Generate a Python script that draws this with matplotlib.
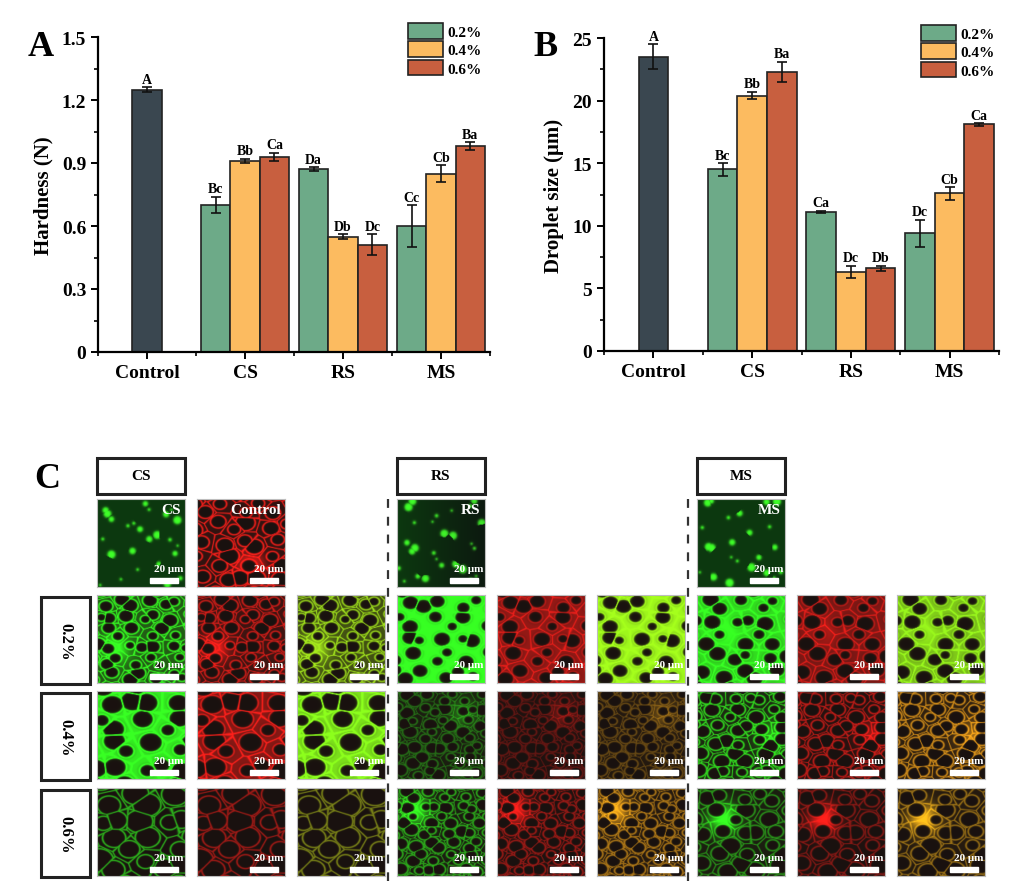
import matplotlib
matplotlib.use('Agg')
import matplotlib.pyplot as plt
import numpy as np
from matplotlib.patches import Rectangle
from matplotlib.lines import Line2D
from matplotlib.ticker import MultipleLocator

plt.rcParams['font.family'] = ['Liberation Serif', 'DejaVu Serif']
plt.rcParams['font.weight'] = 'bold'
plt.rcParams['axes.labelweight'] = 'bold'

# --- データ ---
groups = ['Control', 'CS', 'RS', 'MS']
conc = ['0.2%', '0.4%', '0.6%']

hard_ctrl, hard_ctrl_err = 1.25, 0.01
hard_02 = [0.70, 0.87, 0.60]
hard_04 = [0.91, 0.55, 0.85]
hard_06 = [0.93, 0.51, 0.98]
hard_02_err = [0.04, 0.01, 0.10]
hard_04_err = [0.01, 0.01, 0.04]
hard_06_err = [0.02, 0.05, 0.02]
hard_02_let = ['Bc', 'Da', 'Cc']
hard_04_let = ['Bb', 'Db', 'Cb']
hard_06_let = ['Ca', 'Dc', 'Ba']

size_ctrl, size_ctrl_err = 23.5, 1.0
size_02 = [14.5, 11.1, 9.4]
size_04 = [20.4, 6.3, 12.6]
size_06 = [22.3, 6.6, 18.1]
size_02_err = [0.5, 0.1, 1.1]
size_04_err = [0.3, 0.5, 0.5]
size_06_err = [0.8, 0.2, 0.1]
size_02_let = ['Bc', 'Ca', 'Dc']
size_04_let = ['Bb', 'Dc', 'Cb']
size_06_let = ['Ba', 'Db', 'Ca']

c_ctrl = '#3a4750'
c_conc = ['#6daa88', '#fcbb60', '#c85f3f']

W, H = 1024, 895
fig = plt.figure(figsize=(W / 100, H / 100), dpi=100)


def rect(x0, y0, x1, y1):
    # ピクセル座標 -> figure 座標
    return [x0 / W, 1 - y1 / H, (x1 - x0) / W, (y1 - y0) / H]


def bar_panel(ax, ctrl, ctrl_err, vals, errs, lets, ymax, ystep, ylabel, leg_xy):
    bw = 0.3
    x = np.arange(1, 4)
    ekw = dict(ecolor='#111111', elinewidth=1.2, capsize=3.5, capthick=1.2)
    ax.bar(0, ctrl, bw, yerr=ctrl_err, color=c_ctrl, edgecolor='#222222',
           linewidth=1.2, error_kw=ekw, zorder=2)
    ax.annotate('A', (0, ctrl + ctrl_err), xytext=(0, 1), textcoords='offset points',
                ha='center', va='bottom', fontsize=10, fontweight='bold')
    for i in range(3):
        xs = x + (i - 1) * bw
        ax.bar(xs, vals[i], bw, yerr=errs[i], color=c_conc[i], edgecolor='#222222',
               linewidth=1.2, error_kw=ekw, label=conc[i], zorder=2)
        for xx, v, e, t in zip(xs, vals[i], errs[i], lets[i]):
            ax.annotate(t, (xx, v + e), xytext=(0, 1), textcoords='offset points',
                        ha='center', va='bottom', fontsize=10, fontweight='bold')
    ax.set_xlim(-0.5, 3.5)
    ax.set_ylim(0, ymax)
    ax.set_xticks(range(4))
    ax.set_xticklabels(groups, fontweight='bold')
    ax.xaxis.set_minor_locator(MultipleLocator(0.5))
    ax.yaxis.set_major_locator(MultipleLocator(ystep))
    ax.yaxis.set_minor_locator(MultipleLocator(ystep / 2))
    ax.tick_params(axis='both', which='major', labelsize=14, width=1.4, length=5, direction='out')
    ax.tick_params(axis='both', which='minor', width=1.2, length=3, direction='out')
    for s in ['top', 'right']:
        ax.spines[s].set_visible(False)
    for s in ['left', 'bottom']:
        ax.spines[s].set_linewidth(1.6)
    ax.set_ylabel(ylabel, fontsize=15, labelpad=6, fontweight='bold')
    ax.legend(loc='upper left', bbox_to_anchor=leg_xy, bbox_transform=fig.transFigure,
              frameon=False, prop=dict(size=11, weight='bold'), handlelength=2.3,
              handleheight=1.2, handletextpad=0.3, labelspacing=0.15, borderpad=0,
              borderaxespad=0)


axA = fig.add_axes(rect(98, 38, 490, 353))
bar_panel(axA, hard_ctrl, hard_ctrl_err,
          [hard_02, hard_04, hard_06], [hard_02_err, hard_04_err, hard_06_err],
          [hard_02_let, hard_04_let, hard_06_let],
          1.5, 0.3, 'Hardness (N)', (408 / W, 1 - 24 / H))
axA.yaxis.set_major_formatter(plt.FuncFormatter(lambda v, p: '0' if v == 0 else f'{v:.1f}'))

axB = fig.add_axes(rect(604, 39, 999, 352))
bar_panel(axB, size_ctrl, size_ctrl_err,
          [size_02, size_04, size_06], [size_02_err, size_04_err, size_06_err],
          [size_02_let, size_04_let, size_06_let],
          25, 5, 'Droplet size (μm)', (921 / W, 1 - 26 / H))
for ax in (axA, axB):
    for lab in ax.get_yticklabels():
        lab.set_fontweight('bold')

fig.text(28 / W, 1 - 56 / H, 'A', fontsize=26, fontweight='bold', ha='left', va='baseline')
fig.text(533 / W, 1 - 56 / H, 'B', fontsize=26, fontweight='bold', ha='left', va='baseline')
fig.text(34 / W, 1 - 488 / H, 'C', fontsize=26, fontweight='bold', ha='left', va='baseline')


# --- パネル C: 顕微鏡画像の模式表現 ---
def foam(cells, phase, rad, fill, ring, patch=None, n=110):
    yy, xx = np.mgrid[0:n, 0:n] / n
    k = np.arange(-1, cells + 1)
    gx, gy = [a.ravel().astype(float) for a in np.meshgrid(k, k)]
    px = (gx + 0.5 + 0.5 * (gy % 2) + 0.28 * np.sin(2.1 * gx + 3.7 * gy + phase)) / cells
    py = (gy + 0.5 + 0.28 * np.cos(3.3 * gx - 1.9 * gy + 1.7 * phase)) / cells
    rr = rad * (0.8 + 0.2 * np.sin(1.3 * gx * gy + 0.7 * gx + phase)) / cells
    # やや楕円にする
    d = np.hypot((xx[..., None] - px) * 0.9, (yy[..., None] - py) * 1.1)
    i0 = d.argmin(-1)
    ds = np.sort(d, -1)
    s = ds[..., 0] - rr[i0]
    gap = (ds[..., 1] - ds[..., 0]) * cells
    edge = np.exp(-(gap / 0.06) ** 2)
    outside = np.maximum(1 / (1 + np.exp(-s * n / 1.0)), edge)
    mem = np.exp(-(s * n / 1.1) ** 2)
    f = np.full_like(xx, fill)
    if patch is not None:
        f = f + patch[2] * np.exp(-((xx - patch[0]) ** 2 + (yy - patch[1]) ** 2) / 0.025)
    return np.clip(f * outside + ring * np.maximum(mem, edge), 0, 1)


def dots(cells, phase, rad, n=110):
    yy, xx = np.mgrid[0:n, 0:n] / n
    k = np.arange(0, cells)
    gx, gy = [a.ravel().astype(float) for a in np.meshgrid(k, k)]
    px = (gx + 0.5 + 0.4 * np.sin(2.7 * gx + 1.9 * gy + phase)) / cells
    py = (gy + 0.5 + 0.4 * np.cos(1.3 * gx - 3.1 * gy + phase)) / cells
    keep = np.sin(5.1 * gx + 2.3 * gy + phase) > 0.0
    rr = rad * (0.6 + 0.4 * np.sin(0.9 * gx + 1.7 * gy + phase)) / cells
    d = np.hypot(xx[..., None] - px, yy[..., None] - py)
    i0 = d.argmin(-1)
    s = d.min(-1) - rr[i0]
    I = (1 / (1 + np.exp(s * n / 0.8))) * keep[i0]
    return I, xx


bg = np.array([0.10, 0.07, 0.06])
col_g = np.array([0.12, 1.0, 0.08])
col_r = np.array([1.0, 0.06, 0.05])


def to_rgb(I, col, base=bg):
    return np.clip(base + I[..., None] * col, 0, 1)


col_x = [97, 197, 297, 397, 497, 597, 697, 797, 897]
row_y = [500, 596, 692, 789]
tw = 88

# 各濃度・各澱粉の泡構造パラメータ (cells, phase, rad, fill, ring, patch)
foam_par = {
    (1, 0): (6, 0.3, 0.50, 0.30, 0.75, (0.2, 0.6, 0.7)),
    (1, 1): (5, 1.1, 0.45, 0.95, 0.45, None),
    (1, 2): (5, 2.0, 0.47, 0.80, 0.5, (0.3, 0.4, 0.2)),
    (2, 0): (4, 0.7, 0.50, 0.85, 0.65, None),
    (2, 1): (7, 1.5, 0.54, 0.05, 0.35, (0.75, 0.25, 0.35)),
    (2, 2): (6, 2.6, 0.54, 0.10, 0.75, (0.85, 0.5, 0.5)),
    (3, 0): (4, 0.1, 0.58, 0.0, 0.65, None),
    (3, 1): (7, 1.9, 0.54, 0.05, 0.6, (0.2, 0.25, 0.9)),
    (3, 2): (5, 2.9, 0.54, 0.05, 0.5, (0.3, 0.35, 1.0)),
}
merge_col = {
    (1, 0): [0.55, 0.85, 0.05], (1, 1): [0.55, 0.95, 0.05], (1, 2): [0.5, 0.9, 0.05],
    (2, 0): [0.45, 0.95, 0.05], (2, 1): [0.85, 0.6, 0.05], (2, 2): [0.9, 0.6, 0.05],
    (3, 0): [0.6, 0.7, 0.05], (3, 1): [0.95, 0.65, 0.05], (3, 2): [0.95, 0.7, 0.05],
}


def tile(x0, y0, img, label=None):
    ax = fig.add_axes(rect(x0, y0, x0 + tw, y0 + tw))
    ax.imshow(img, extent=(0, 1, 0, 1), aspect='auto', interpolation='bilinear')
    ax.set_xlim(0, 1)
    ax.set_ylim(0, 1)
    ax.set_xticks([])
    ax.set_yticks([])
    for s in ax.spines.values():
        s.set_color('#bdbdbd')
        s.set_linewidth(0.8)
    ax.text(0.98, 0.16, '20 μm', color='white', fontsize=8, fontweight='bold',
            ha='right', va='bottom', transform=ax.transAxes)
    ax.add_patch(Rectangle((0.6, 0.05), 0.32, 0.05, color='white', transform=ax.transAxes))
    if label:
        ax.text(0.95, 0.96, label, color='white', fontsize=11, fontweight='bold',
                ha='right', va='top', transform=ax.transAxes)


# 1 行目 (単独)
starch = ['CS', 'RS', 'MS']
for j, (c, ph) in enumerate(zip([0, 3, 6], [0.4, 1.3, 2.2])):
    I, xx = dots(7, ph, 0.32)
    base = np.stack([0.05 + 0 * xx, 0.22 - 0.12 * xx * (j == 1), 0.06 + 0 * xx], -1)
    tile(col_x[c], row_y[0], to_rgb(I, np.array([0.2, 0.8, 0.1]), base), starch[j])
tile(col_x[1], row_y[0], to_rgb(foam(5, 3.3, 0.52, 0.1, 0.8, (0.6, 0.75, 0.8)), col_r),
     'Control')

for r in range(1, 4):
    for g in range(3):
        p = foam_par[(r, g)]
        I = foam(*p)
        Ir = foam(p[0], p[1], p[2], p[3] * 0.5, p[4] * 0.85, p[5])
        tile(col_x[3 * g], row_y[r], to_rgb(I, col_g))
        tile(col_x[3 * g + 1], row_y[r], to_rgb(Ir, col_r))
        tile(col_x[3 * g + 2], row_y[r], to_rgb(I, np.array(merge_col[(r, g)])))

# ヘッダーボックス
for j, c in enumerate([0, 3, 6]):
    x0 = col_x[c]
    fig.add_artist(Rectangle((x0 / W, 1 - 495 / H), 88 / W, 36 / H, transform=fig.transFigure,
                             facecolor='white', edgecolor='#222222', linewidth=2.2))
    fig.text((x0 + 44) / W, 1 - 477 / H, starch[j], fontsize=11, fontweight='bold',
             ha='center', va='center')

# 濃度ラベル
for r in range(1, 4):
    y0 = row_y[r] + 2
    fig.add_artist(Rectangle((41 / W, 1 - (y0 + 87) / H), 49 / W, 87 / H,
                             transform=fig.transFigure, facecolor='white',
                             edgecolor='#222222', linewidth=2.2))
    fig.text(65.5 / W, 1 - (y0 + 43.5) / H, conc[r - 1], fontsize=12, fontweight='bold',
             rotation=-90, ha='center', va='center')

# 破線の区切り
for xd in [388, 688]:
    fig.add_artist(Line2D([xd / W, xd / W], [1 - 500 / H, 1 - 882 / H],
                          transform=fig.transFigure, color='#333333', linewidth=1.6,
                          dashes=(4, 4)))

fig.savefig('out.png', dpi=100)
